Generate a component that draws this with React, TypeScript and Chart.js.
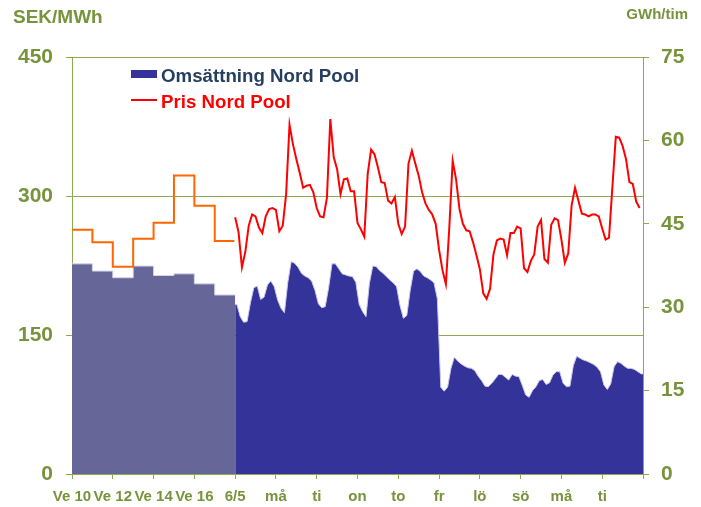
import React, { useEffect, useRef } from "react";
import { Chart, registerables } from "chart.js";

Chart.register(...registerables);

// X axis tick labels (one per unit: weeks are half a unit, days one unit)
const xLabels = ["Ve 10", "Ve 12", "Ve 14", "Ve 16", "6/5", "må", "ti", "on", "to", "fr", "lö", "sö", "må", "ti", ""];

// Weekly history (Ve 10 .. Ve 17)
const weeks = ["Ve 10", "Ve 11", "Ve 12", "Ve 13", "Ve 14", "Ve 15", "Ve 16", "Ve 17"];
const weeklyVolume = [37.8, 36.5, 35.3, 37.4, 35.7, 36.0, 34.2, 32.2]; // GWh/tim
const weeklyPrice = [263.6, 250, 223.7, 254, 271, 322, 289.5, 251.4]; // SEK/MWh

// Hourly part, read every 2 hours over 10 days starting 6/5
const hourStep = 2;
const hourlyPrice = [
  277, 261, 223, 240, 268, 280, 278, 266, 260, 278,
  286, 287, 285, 262, 268, 302, 377, 356, 340, 325,
  309, 311, 312, 304, 287, 278, 277, 298, 383, 342,
  329, 302, 318, 319, 305, 305, 271, 264, 256, 324,
  350, 345, 331, 315, 314, 295, 292, 299, 270, 259,
  267, 335, 349, 335, 322, 304, 292, 285, 280, 270,
  242, 220, 205, 265, 338, 318, 286, 270, 263, 262,
  250, 236, 221, 195, 189, 200, 237, 252, 254, 253,
  236, 260, 260, 267, 265, 222, 218, 230, 237, 267,
  274, 232, 228, 269, 276, 274, 253, 228, 238, 290,
  309, 295, 281, 280, 278, 280, 280, 278, 265, 253,
  255, 310, 364, 363, 354, 340, 315, 313, 294, 287,
];
const hourlyVolume = [
  30.5, 28.3, 27.3, 27.4, 30.8, 33.5, 33.8, 31.4, 31.8, 34.0,
  34.7, 33.7, 31.3, 29.8, 29.0, 34.5, 38.2, 37.9, 37.2, 36.1,
  35.6, 35.3, 34.7, 33.0, 30.6, 29.9, 30.1, 33.5, 37.8, 37.8,
  36.9, 36.0, 35.8, 35.6, 35.5, 34.5, 30.5, 29.2, 28.3, 34.3,
  37.4, 37.3, 36.6, 36.1, 35.5, 34.9, 34.4, 33.7, 30.3, 28.0,
  28.5, 33.0, 36.5, 36.9, 36.4, 35.6, 35.3, 34.9, 34.4, 31.5,
  15.6, 14.9, 15.6, 19.0, 21.0, 20.3, 19.8, 19.4, 19.1, 19.0,
  18.6, 17.6, 16.8, 15.8, 15.7, 16.3, 17.1, 17.9, 17.9, 17.4,
  16.9, 17.9, 17.6, 17.5, 15.9, 14.2, 13.8, 15.0, 15.7, 16.8,
  17.0, 16.1, 16.4, 17.8, 18.4, 18.4, 16.3, 15.7, 15.8, 19.5,
  21.2, 20.8, 20.5, 20.3, 20.0, 19.7, 19.2, 18.4, 16.0, 15.2,
  16.2, 19.3, 20.2, 19.9, 19.4, 19.0, 19.0, 18.8, 18.4, 18.0,
];

const GREEN_TEXT = "#77933C";
const GREEN_LINE = "#8CAA4E";
const FONT = '"Liberation Sans", Arial, sans-serif';

const weekX = (i: number) => i * 0.5;
const hourX = (k: number) => weeks.length * 0.5 + (k * hourStep) / 24;

export default function App() {
  const ref = useRef<HTMLCanvasElement>(null);

  useEffect(() => {
    const weekVolPts = weeklyVolume.map((v, i) => ({ x: weekX(i), y: v }));
    weekVolPts.push({ x: weekX(weeks.length), y: weeklyVolume[weeklyVolume.length - 1] });
    const weekPricePts = weeklyPrice.map((v, i) => ({ x: weekX(i), y: v }));
    weekPricePts.push({ x: weekX(weeks.length) - 0.02, y: weeklyPrice[weeklyPrice.length - 1] });
    const hourVolPts = hourlyVolume.map((v, k) => ({ x: hourX(k) + hourStep / 48, y: v }));
    hourVolPts.unshift({ x: hourX(0), y: hourlyVolume[0] });
    hourVolPts.push({ x: hourX(hourlyVolume.length), y: hourlyVolume[hourlyVolume.length - 1] });
    const hourPricePts = hourlyPrice.map((v, k) => ({ x: hourX(k), y: v }));

    const overlay = {
      id: "overlay",
      afterDraw(chart: any) {
        const ctx = chart.ctx;
        ctx.save();
        ctx.textAlign = "left";
        ctx.textBaseline = "alphabetic";
        ctx.fillStyle = GREEN_TEXT;
        ctx.font = `bold 19px ${FONT}`;
        ctx.fillText("SEK/MWh", 13, 23);
        ctx.font = `bold 15px ${FONT}`;
        ctx.textAlign = "right";
        ctx.fillText("GWh/tim", 688, 19);
        // legend
        ctx.textAlign = "left";
        ctx.fillStyle = "#333399";
        ctx.fillRect(131, 70, 26, 8);
        ctx.font = `bold 18.7px ${FONT}`;
        ctx.fillStyle = "#243F60";
        ctx.fillText("Omsättning Nord Pool", 161, 81.5);
        ctx.strokeStyle = "#FF0000";
        ctx.lineWidth = 2;
        ctx.beginPath();
        ctx.moveTo(131, 100);
        ctx.lineTo(157, 100);
        ctx.stroke();
        ctx.fillStyle = "#FF0000";
        ctx.fillText("Pris Nord Pool", 161, 107.5);
        ctx.restore();
      },
    };

    const chart = new Chart(ref.current!, {
      type: "line",
      data: {
        datasets: [
          {
            label: "Pris Nord Pool",
            data: hourPricePts,
            yAxisID: "y",
            borderColor: "#FF0000",
            borderWidth: 2,
            pointRadius: 0,
            tension: 0,
            fill: false,
          },
          {
            label: "Pris vecka",
            data: weekPricePts,
            yAxisID: "y",
            borderColor: "#FF6600",
            borderWidth: 2,
            pointRadius: 0,
            stepped: true,
            fill: false,
          },
          {
            label: "Omsättning Nord Pool",
            data: hourVolPts,
            yAxisID: "yR",
            borderColor: "#C9C9E6",
            borderWidth: 1,
            backgroundColor: "#333399",
            pointRadius: 0,
            tension: 0,
            fill: "origin",
          },
          {
            label: "Omsättning vecka",
            data: weekVolPts,
            yAxisID: "yR",
            borderColor: "#D6D6EA",
            borderWidth: 1,
            backgroundColor: "#666699",
            pointRadius: 0,
            stepped: true,
            fill: "origin",
          },
        ],
      },
      options: {
        responsive: false,
        animation: false,
        events: [],
        layout: { padding: { top: 57, left: 0, right: 0, bottom: 0 } },
        plugins: {
          legend: { display: false },
          tooltip: { enabled: false },
          title: { display: false },
        },
        scales: {
          x: {
            type: "linear",
            min: 0,
            max: xLabels.length - 1,
            afterFit: (s: any) => {
              s.height = 33;
            },
            ticks: {
              stepSize: 1,
              autoSkip: false,
              maxRotation: 0,
              color: GREEN_TEXT,
              padding: 9,
              font: { family: FONT, size: 15, weight: "bold" },
              callback: (v: any) => xLabels[Math.round(Number(v))] ?? "",
            },
            grid: { drawOnChartArea: false, drawTicks: true, tickLength: 5, color: GREEN_LINE },
            border: { color: GREEN_LINE, width: 1 },
          },
          y: {
            position: "left",
            min: 0,
            max: 450,
            afterFit: (s: any) => {
              s.width = 72;
            },
            ticks: {
              stepSize: 150,
              color: GREEN_TEXT,
              padding: 13,
              font: { family: FONT, size: 21, weight: "bold" },
            },
            grid: { drawOnChartArea: true, drawTicks: true, tickLength: 6, color: GREEN_LINE },
            border: { color: GREEN_LINE, width: 1 },
          },
          yR: {
            position: "right",
            min: 0,
            max: 75,
            afterFit: (s: any) => {
              s.width = 58;
            },
            ticks: {
              stepSize: 15,
              color: GREEN_TEXT,
              padding: 12,
              font: { family: FONT, size: 21, weight: "bold" },
            },
            grid: { drawOnChartArea: false, drawTicks: true, tickLength: 6, color: GREEN_LINE },
            border: { color: GREEN_LINE, width: 1 },
          },
        },
      },
      plugins: [overlay],
    } as any);
    return () => chart.destroy();
  }, []);

  return (
    <div style={{ position: "absolute", left: 0, top: 0, width: 701, height: 507, background: "#fff" }}>
      <canvas ref={ref} width={701} height={507} style={{ width: 701, height: 507, display: "block" }} />
    </div>
  );
}
